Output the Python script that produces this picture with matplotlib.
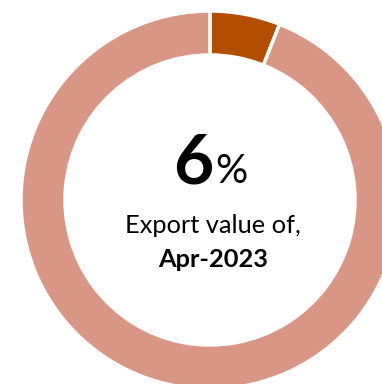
import matplotlib.pyplot as plt

labels = ["Apr-2023", "Rest"]
values = [6, 94]
colors = ["#B34D00", "#D99685"]
share_text = "6"
caption = "Export value of,"
period = "Apr-2023"

W, H = 382, 384
fig = plt.figure(figsize=(W / 100, H / 100), dpi=100)
ax = fig.add_axes([0, 0, 1, 1])

# donut, center and radii in pixel units
cx, cy = 210, H - 200
r_out, r_in = 189, 145
ax.pie(values, colors=colors, startangle=90, counterclock=False,
       center=(cx, cy), radius=r_out, frame=True,
       wedgeprops=dict(width=r_out - r_in, edgecolor="white", linewidth=2.5))

ax.set_xlim(0, W)
ax.set_ylim(0, H)
ax.set_aspect("equal")
ax.axis("off")

font = "Lato"
ax.text(213, H - 183, share_text, ha="right", va="baseline",
        fontsize=50, fontweight="bold", family=font, color="black")
ax.text(215, H - 183, "%", ha="left", va="baseline",
        fontsize=29, family=font, color="black")
ax.text(213, H - 233, caption, ha="center", va="baseline",
        fontsize=18.3, family=font, color="black")
ax.text(213, H - 267, period, ha="center", va="baseline",
        fontsize=18.3, fontweight="bold", family=font, color="black")

fig.savefig("out.png", dpi=100)
